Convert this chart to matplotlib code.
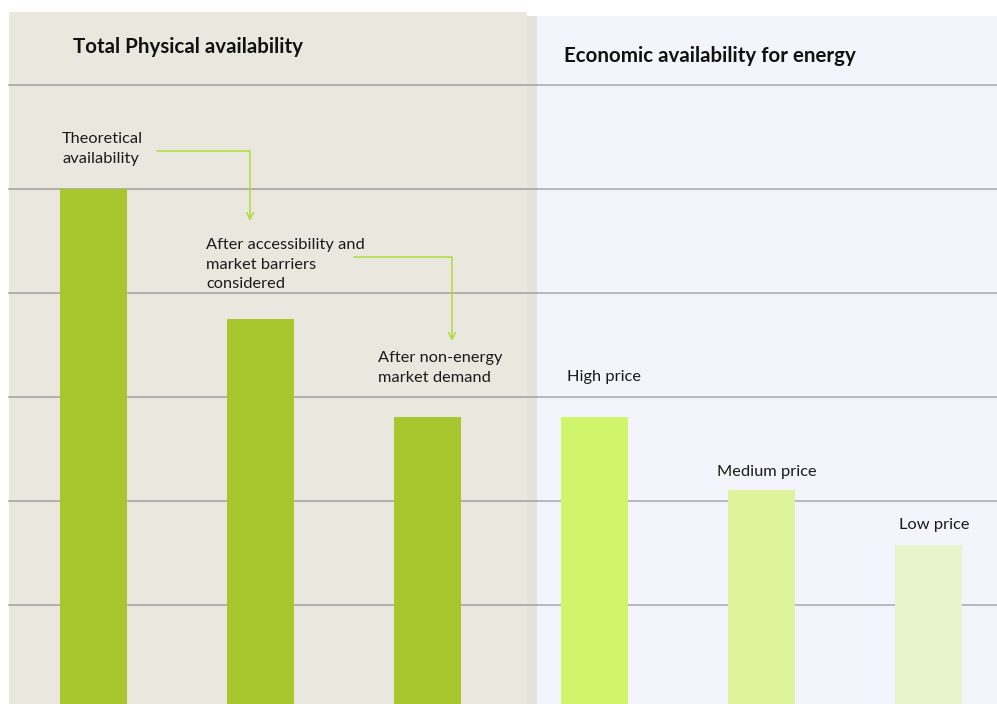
import matplotlib.pyplot as plt
from matplotlib.patches import Rectangle

plt.rcParams['font.family'] = ['Lato', 'DejaVu Sans']

# bar heights, in gridline units
labels = ['Theoretical\navailability',
          'After accessibility and\nmarket barriers\nconsidered',
          'After non-energy\nmarket demand',
          'High price', 'Medium price', 'Low price']
values = [5.0, 3.75, 2.81, 2.81, 2.11, 1.58]
colors = ['#A8C72F', '#A8C72F', '#A8C72F', '#D0F46A', '#DEF39C', '#E8F4CB']
panel_titles = ['Total Physical availability', 'Economic availability for energy']

W, H = 997, 704
fig = plt.figure(figsize=(W / 100, H / 100), dpi=100)
ax = fig.add_axes([0, 0, 1, 1])

# pixel -> data helpers (bar pitch 167px, one grid unit 104px)
def dx(px):
    return (px - 93.5) / 167

def dy(py):
    return (709 - py) / 104

ax.set_xlim(dx(0), dx(W))
ax.set_ylim(dy(H), dy(0))
ax.axis('off')

# panel backgrounds
ax.add_patch(Rectangle((dx(9), dy(H)), dx(527) - dx(9), dy(12) - dy(H),
                       facecolor='#EAE8DE', edgecolor='none', zorder=0))
ax.add_patch(Rectangle((dx(527), dy(H)), dx(537) - dx(527), dy(16) - dy(H),
                       facecolor='#E4E2DD', edgecolor='none', zorder=0))
ax.add_patch(Rectangle((dx(537), dy(H)), dx(W) - dx(537), dy(16) - dy(H),
                       facecolor='#F4F4FD', edgecolor='none', zorder=0))

# gridlines
for g in range(1, 7):
    ax.plot([dx(9), dx(537)], [g, g], color='#ADABA3', lw=1.3, zorder=1)
    ax.plot([dx(537), dx(W)], [g, g], color='#B2B2C0', lw=1.3, zorder=1)

x = list(range(len(values)))
ax.bar(x, values, width=67 / 167, color=colors, zorder=2)

# panel titles
ax.text(dx(73), dy(47), panel_titles[0], fontsize=14.8, fontweight='bold',
        va='center', ha='left', color='#111111')
ax.text(dx(564), dy(56), panel_titles[1], fontsize=14.8, fontweight='bold',
        va='center', ha='left', color='#111111')

# bar labels
lab_pos = [(62, 132), (206, 238), (378, 351), (567, 370), (717, 465), (899, 518)]
for (px, py), lab in zip(lab_pos, labels):
    ax.text(dx(px), dy(py), lab, fontsize=11.8, va='top', ha='left',
            color='#1A1A1A', linespacing=1.52)

# connector arrows
arrow_kw = dict(arrowstyle='->', color='#AEDB3C', lw=1.1,
                connectionstyle='angle,angleA=0,angleB=90,rad=0',
                shrinkA=0, shrinkB=0, mutation_scale=12)
ax.annotate('', xy=(dx(250), dy(221)), xytext=(dx(157), dy(151)),
            arrowprops=arrow_kw, zorder=3)
ax.annotate('', xy=(dx(452), dy(341)), xytext=(dx(354), dy(257)),
            arrowprops=arrow_kw, zorder=3)

fig.savefig('out.png', dpi=100, facecolor='white')
